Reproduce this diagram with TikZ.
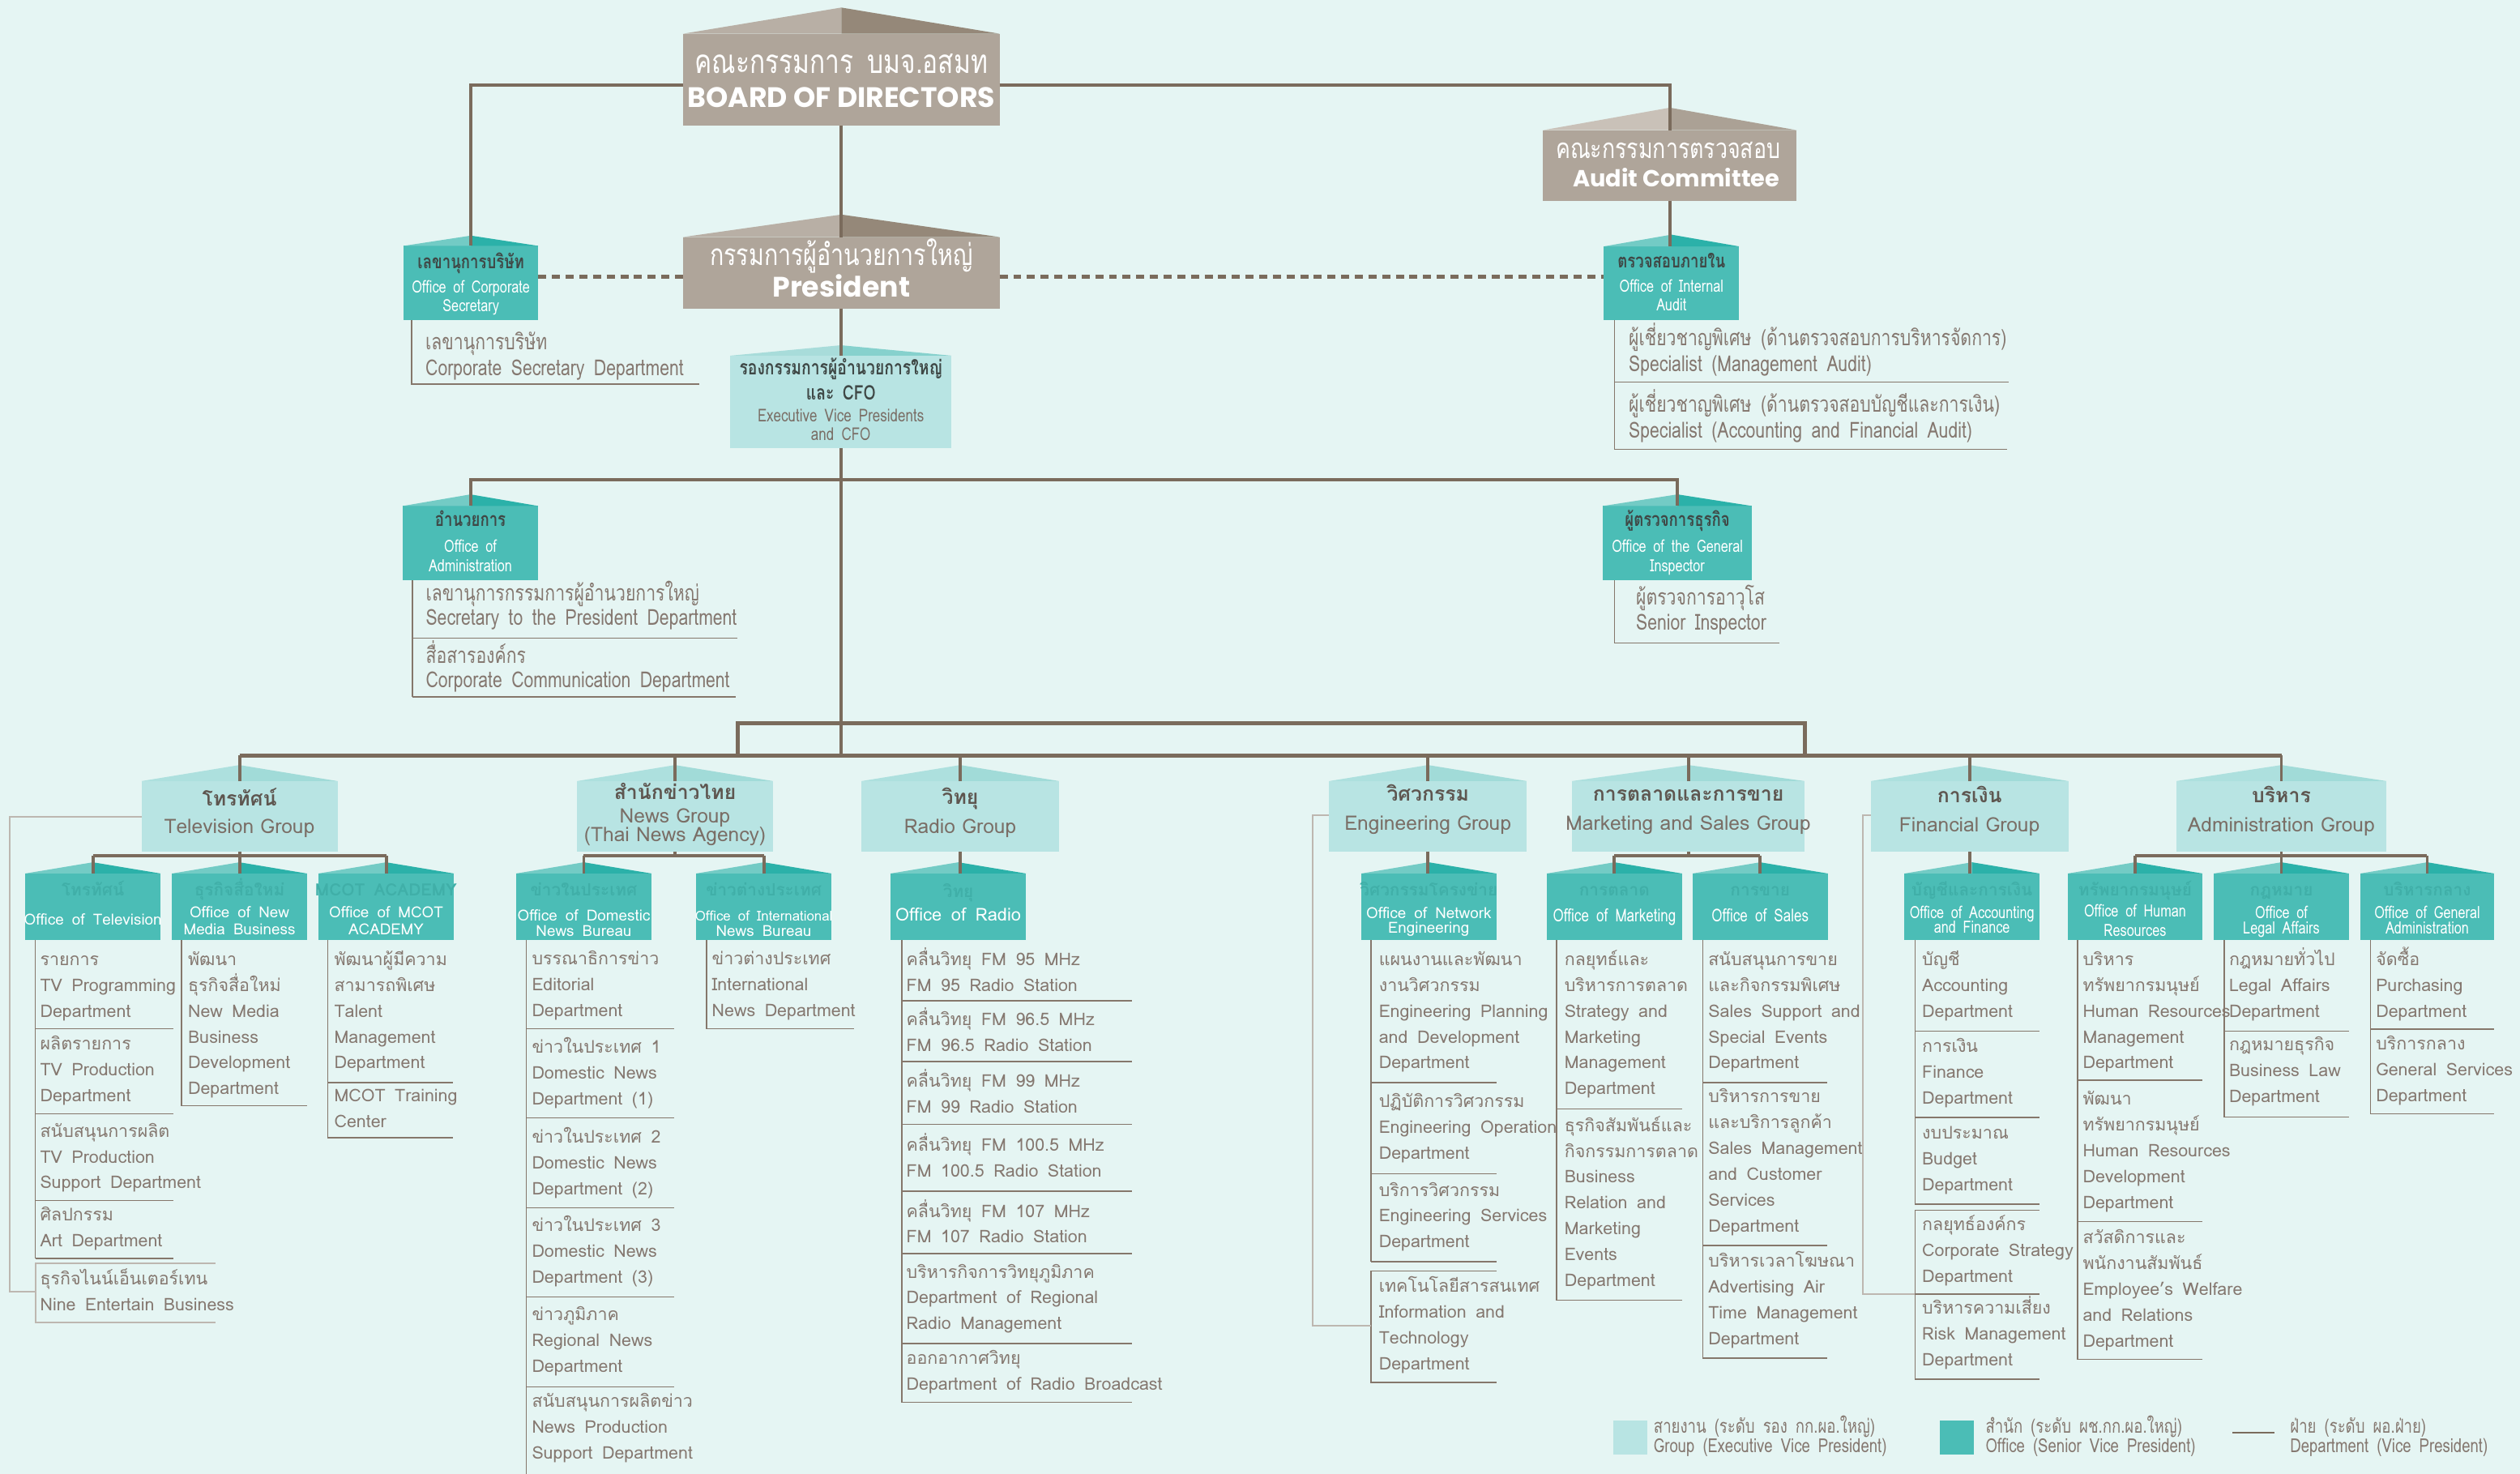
\documentclass[tikz,border=0pt]{standalone}
\usepackage{fontspec}
\setmainfont[Script=Thai,WordSpace=1.6]{Loma}
\newfontfamily\cond[Script=Thai,FakeStretch=0.78,WordSpace=1.6]{Loma}
\newfontfamily\grpf[Script=Thai]{Loma}
\newfontfamily\heavy{Poppins}
\usetikzlibrary{calc}
\definecolor{bg}{HTML}{E5F5F3}
\definecolor{linec}{HTML}{7A6B5C}
\definecolor{deptl}{HTML}{85776B}
\definecolor{deptc}{HTML}{857870}
\definecolor{brkc}{HTML}{BDB7B0}
\definecolor{brownbox}{HTML}{AFA59A}
\definecolor{broofL}{HTML}{B8AFA5}
\definecolor{broofR}{HTML}{958879}
\definecolor{aroofL}{HTML}{C9C1B8}
\definecolor{aroofR}{HTML}{ABA195}
\definecolor{teal}{HTML}{4BBDB6}
\definecolor{tealL}{HTML}{73CBC5}
\definecolor{tealR}{HTML}{2BB1A9}
\definecolor{tealfaint}{HTML}{40AFA8}
\definecolor{lteal}{HTML}{B8E4E3}
\definecolor{ltealL}{HTML}{ADE0DE}
\definecolor{ltealR}{HTML}{A1DBD8}
\definecolor{cfoL}{HTML}{A8DCDA}
\definecolor{cfoR}{HTML}{86D1CD}
\definecolor{darkt}{HTML}{3F4846}
\definecolor{grpthai}{HTML}{5E5650}
\definecolor{grpeng}{HTML}{7A6E66}
\newcommand\fs[1]{\fontsize{#1}{#1}\selectfont}
\newcommand\roofbox[9]{%
  \pgfmathsetmacro\rbx{(#2+#3)/2}%
  \pgfmathsetmacro\rby{(#4+#5)/2}%
  \pgfmathsetmacro\rbw{#3-#2}%
  \pgfmathsetmacro\rbh{#5-#4}%
  \node[fill=#7, minimum width=\rbw pt, minimum height=\rbh pt] (#1) at (\rbx,\rby) {};
  \fill[#8] (#2,#4) -- (\rbx,#6) -- (\rbx,#4) -- cycle;
  \fill[#9] (\rbx,#6) -- (#3,#4) -- (\rbx,#4) -- cycle;
}
\newcommand\dlist[5]{\foreach \t [count=\i] in {#5}{\node[#2, name=#1\i] at (#3,{#4+(\i-1)*16.1}) {\t};}}
\newcommand\grp[3]{\roofbox{#1}{#2}{#3}{486}{530}{476}{lteal}{ltealL}{ltealR}}
\newcommand\office[3]{\roofbox{#1}{#2}{#3}{543.5}{585}{536.5}{teal}{tealL}{tealR}}
\tikzset{
  conn/.style={draw=linec, line width=2pt},
  busline/.style={draw=linec, line width=2.6pt},
  dotconn/.style={draw=linec, line width=2.4pt, dash pattern=on 5pt off 3.5pt},
  dl/.style={draw=deptl, line width=0.8pt},
  brk/.style={draw=brkc, line width=1pt},
  dept/.style={anchor=mid west, text=deptc, font=\fs{10.8}},
  tdept/.style={anchor=mid west, text=deptc, font=\cond\fs{13.7}},
  otitle/.style={anchor=mid, text=darkt, font=\cond\bfseries\fs{12}},
  oeng/.style={anchor=mid, text=white, font=\cond\fs{10.5}},
  ofaint/.style={anchor=mid, text=tealfaint, font=\bfseries\fs{10.5}},
  oengb/.style={anchor=mid, text=white, font=\fs{9.5}},
  gthai/.style={anchor=mid, text=grpthai, font=\grpf\bfseries\fs{12.5}},
  geng/.style={anchor=mid, text=grpeng, font=\grpf\fs{12.4}},
  legt/.style={anchor=mid west, text=deptc, font=\cond\fs{12}},
}
\begin{document}
\begin{tikzpicture}[x=1pt,y=-1pt,every node/.style={inner sep=0pt,outer sep=0pt}]
\fill[bg] (0,0) rectangle (1568,917);
\useasboundingbox (0,0) rectangle (1568,917);

% ---------- top boxes
\roofbox{bod}{425}{622}{21}{78}{4.7}{brownbox}{broofL}{broofR}
\roofbox{pres}{425}{622}{147.5}{192}{133.5}{brownbox}{broofL}{broofR}
\roofbox{aud}{960}{1118}{81}{125}{67}{brownbox}{aroofL}{aroofR}
\roofbox{cs}{251}{335}{153}{199}{146.6}{teal}{tealL}{tealR}
\roofbox{ia}{998}{1082}{153.3}{199}{146}{teal}{tealL}{tealR}
\roofbox{cfo}{454.4}{592}{221.3}{279}{214.8}{lteal}{cfoL}{cfoR}
\roofbox{adm}{250.7}{334.8}{314.8}{361}{307.6}{teal}{tealL}{tealR}
\roofbox{gi}{997.5}{1090}{314.8}{361}{307.6}{teal}{tealL}{tealR}

% ---------- groups
\grp{tvg}{88}{210}
\grp{newsg}{359}{481}
\grp{radg}{536}{659}
\grp{engg}{827}{950}
\grp{mktg}{978}{1123}
\grp{fing}{1164}{1287}
\grp{admg}{1354}{1485}

% ---------- offices
\office{tvo}{15.6}{100}
\office{nmo}{107}{191}
\office{mcoto}{198}{282.5}
\office{domo}{321}{405.5}
\office{intlo}{433}{517.5}
\office{rado}{554}{638.5}
\office{neto}{847}{931}
\office{mkto}{962.4}{1046.6}
\office{salo}{1053}{1137.4}
\office{acco}{1185}{1269}
\office{hro}{1286.5}{1370.5}
\office{lego}{1377.5}{1461.5}
\office{geno}{1468.5}{1552}

% ---------- connectors top
\draw[conn] (bod.west |- 0,52.8) -| (cs.north);
\draw[conn] (bod.east |- 0,52.8) -| (aud.north);
\draw[conn] (bod.south) -- (pres.north);
\draw[conn] (aud.south) -- (aud.south |- ia.north);
\draw[conn] (pres.south) -- (pres.south |- cfo.north);
\draw[dotconn] (cs.east |- 0,172) -- (pres.west |- 0,172);
\draw[dotconn] (pres.east |- 0,172) -- (ia.west |- 0,172);
\draw[conn] (cfo.south) -- (cfo.south |- 0,470);
\draw[conn] (adm.north) -- (adm.north |- 0,298.4) -- (gi.north |- 0,298.4) -- (gi.north);

% ---------- group buses
\coordinate (ubl) at (459,470);
\coordinate (ubr) at (1123,470);
\draw[busline] (tvg.north |- 0,470) -- (admg.north |- 0,470);
\draw[busline] (ubl) -- (ubl |- 0,450) -- (ubr |- 0,450) -- (ubr);
\foreach \g in {tvg,newsg,radg,engg,mktg,fing,admg} {\draw[conn] (\g.north |- 0,470) -- (\g.north);}
% within groups
\draw[conn] (tvg.south) -- (tvg.south |- 0,532.5);
\draw[conn] (tvo.north |- 0,532.5) -- (mcoto.north |- 0,532.5);
\foreach \o in {tvo,nmo,mcoto} {\draw[conn] (\o.north |- 0,532.5) -- (\o.north);}
\draw[conn] (newsg.south) -- (newsg.south |- 0,532.5);
\draw[conn] (domo.north |- 0,532.5) -- (intlo.north |- 0,532.5);
\foreach \o in {domo,intlo} {\draw[conn] (\o.north |- 0,532.5) -- (\o.north);}
\draw[conn] (radg.south) -- (radg.south |- rado.north);
\draw[conn] (engg.south) -- (engg.south |- neto.north);
\draw[conn] (fing.south) -- (fing.south |- acco.north);
\draw[conn] (mktg.south) -- (mktg.south |- 0,532.5);
\draw[conn] (mkto.north |- 0,532.5) -- (salo.north |- 0,532.5);
\foreach \o in {mkto,salo} {\draw[conn] (\o.north |- 0,532.5) -- (\o.north);}
\draw[conn] (admg.south) -- (admg.south |- lego.north);
\draw[conn] (hro.north |- 0,532.5) -- (geno.north |- 0,532.5);
\foreach \o in {hro,geno} {\draw[conn] (\o.north |- 0,532.5) -- (\o.north);}

% ---------- top texts
\node[anchor=mid, text=white, font=\cond\fs{20.5}] (bodt1) at (523.5,43) {คณะกรรมการ บมจ.อสมท};
\node[anchor=mid, text=white, font=\heavy\bfseries\fs{17.5}] (bodt2) at (523.5,64.4) {BOARD OF DIRECTORS};
\node[anchor=mid, text=white, font=\cond\fs{18.5}] (prest1) at (523.5,162.5) {กรรมการผู้อำนวยการใหญ่};
\node[anchor=mid, text=white, font=\heavy\bfseries\fs{17.5}] (prest2) at (523.5,182) {President};
\node[anchor=mid, text=white, font=\cond\fs{17.3}] (audt1) at (1038,96) {คณะกรรมการตรวจสอบ};
\node[anchor=mid, text=white, font=\heavy\bfseries\fs{14.5}] (audt2) at (1043,113.5) {Audit Committee};
\node[otitle] (cst1) at (293,164.3) {เลขานุการบริษัท};
\node[oeng] (cst2) at (293,179.6) {Office of Corporate};
\node[oeng] (cst3) at (293,191.4) {Secretary};
\node[otitle] (iat1) at (1040,164) {ตรวจสอบภายใน};
\node[oeng] (iat2) at (1040,179) {Office of Internal};
\node[oeng] (iat3) at (1040,191) {Audit};
\node[otitle] (admt1) at (292.7,325) {อำนวยการ};
\node[oeng] (admt2) at (292.7,341) {Office of};
\node[oeng] (admt3) at (292.7,353) {Administration};
\node[otitle] (git1) at (1043.7,325) {ผู้ตรวจการธุรกิจ};
\node[oeng] (git2) at (1043.7,341) {Office of the General};
\node[oeng] (git3) at (1043.7,353) {Inspector};
\node[otitle, font=\cond\bfseries\fs{12.5}] (cfot1) at (523.2,230.6) {รองกรรมการผู้อำนวยการใหญ่};
\node[otitle, font=\cond\bfseries\fs{12.5}] (cfot2) at (523.2,246) {และ CFO};
\node[anchor=mid, text=grpeng, font=\cond\fs{11}] (cfot3) at (523.2,259.6) {Executive Vice Presidents};
\node[anchor=mid, text=grpeng, font=\cond\fs{11}] (cfot4) at (523.2,271.2) {and CFO};

% ---------- top departments
\draw[dl] (256,199) -- (256,239) -- (435,239);
\dlist{csd}{tdept}{264.8}{214.8}{เลขานุการบริษัท,Corporate Secretary Department}
\draw[dl] (1004.5,199) -- (1004.5,279.5);
\draw[dl] (1004.5,237.8) -- (1250,237.8);
\draw[dl] (1004.5,279.5) -- (1248.6,279.5);
\node[tdept] (iad1) at (1013.5,212.6) {ผู้เชี่ยวชาญพิเศษ (ด้านตรวจสอบการบริหารจัดการ)};
\node[tdept] (iad2) at (1013.5,228.5) {Specialist (Management Audit)};
\node[tdept] (iad3) at (1013.5,253.8) {ผู้เชี่ยวชาญพิเศษ (ด้านตรวจสอบบัญชีและการเงิน)};
\node[tdept] (iad4) at (1013.5,269.8) {Specialist (Accounting and Financial Audit)};
\draw[dl] (256.5,361) -- (256.5,433.7);
\draw[dl] (256.5,397) -- (459,397);
\draw[dl] (256.5,433.7) -- (458,433.7);
\node[tdept] (admd1) at (265,371.5) {เลขานุการกรรมการผู้อำนวยการใหญ่};
\node[tdept] (admd2) at (265,386.6) {Secretary to the President Department};
\node[tdept] (admd3) at (265,410) {สื่อสารองค์กร};
\node[tdept] (admd4) at (265,425) {Corporate Communication Department};
\draw[dl] (1004.5,361) -- (1004.5,400) -- (1107,400);
\node[tdept] (gid1) at (1018,374) {ผู้ตรวจการอาวุโส};
\node[tdept] (gid2) at (1018,389.4) {Senior Inspector};

% ---------- group texts
\node[gthai] (tvgt1) at (149,499) {โทรทัศน์};
\node[geng] (tvgt2) at (149,516) {Television Group};
\node[gthai] (newsgt1) at (420,495) {สำนักข่าวไทย};
\node[geng] (newsgt2) at (420,509.5) {News Group};
\node[geng] (newsgt3) at (420,521) {(Thai News Agency)};
\node[gthai] (radgt1) at (597.5,498) {วิทยุ};
\node[geng] (radgt2) at (597.5,516) {Radio Group};
\node[gthai] (enggt1) at (888.5,496) {วิศวกรรม};
\node[geng] (enggt2) at (888.5,514) {Engineering Group};
\node[gthai] (mktgt1) at (1050.5,496) {การตลาดและการขาย};
\node[geng] (mktgt2) at (1050.5,514) {Marketing and Sales Group};
\node[gthai] (fingt1) at (1225.5,497) {การเงิน};
\node[geng] (fingt2) at (1225.5,515) {Financial Group};
\node[gthai] (admgt1) at (1419.5,497) {บริหาร};
\node[geng] (admgt2) at (1419.5,515) {Administration Group};

% ---------- office texts
\node[ofaint] (tvot1) at (tvo |- 0,555) {โทรทัศน์};
\node[oengb] (tvot2) at (tvo |- 0,573) {Office of Television};
\node[ofaint] (nmot1) at (nmo |- 0,555) {ธุรกิจสื่อใหม่};
\node[oengb] (nmot2) at (nmo |- 0,568.5) {Office of  New};
\node[oengb] (nmot3) at (nmo |- 0,579) {Media Business};
\node[ofaint] (mcot1) at (mcoto |- 0,555) {MCOT ACADEMY};
\node[oengb] (mcot2) at (mcoto |- 0,568.5) {Office of MCOT};
\node[oengb] (mcot3) at (mcoto |- 0,579) {ACADEMY};
\node[ofaint] (domot1) at (domo |- 0,555) {ข่าวในประเทศ};
\node[oengb] (domot2) at (domo |- 0,570.6) {Office of Domestic};
\node[oengb] (domot3) at (domo |- 0,580) {News Bureau};
\node[ofaint] (intlot1) at (intlo |- 0,555) {ข่าวต่างประเทศ};
\node[oengb, font=\fs{8.5}] (intlot2) at (intlo |- 0,570.6) {Office of International};
\node[oengb] (intlot3) at (intlo |- 0,580) {News Bureau};
\node[ofaint] (radot1) at (rado |- 0,555.6) {วิทยุ};
\node[oengb, font=\fs{11}] (radot2) at (rado |- 0,570.5) {Office of Radio};
\node[ofaint] (netot1) at (neto |- 0,554.7) {วิศวกรรมโครงข่าย};
\node[oengb] (netot2) at (neto |- 0,568.8) {Office of Network};
\node[oengb] (netot3) at (neto |- 0,578) {Engineering};
\node[ofaint] (mktot1) at (mkto |- 0,554.7) {การตลาด};
\node[oengb, font=\cond\fs{11}] (mktot2) at (mkto |- 0,571) {Office of Marketing};
\node[ofaint] (salot1) at (salo |- 0,554.7) {การขาย};
\node[oengb, font=\cond\fs{11}] (salot2) at (salo |- 0,571) {Office of Sales};
\node[ofaint] (accot1) at (acco |- 0,554.7) {บัญชีและการเงิน};
\node[oeng] (accot2) at (acco |- 0,569) {Office of Accounting};
\node[oeng] (accot3) at (acco |- 0,578) {and Finance};
\node[ofaint] (hrot1) at (hro |- 0,554.7) {ทรัพยากรมนุษย์};
\node[oeng] (hrot2) at (hro |- 0,568) {Office of Human};
\node[oeng] (hrot3) at (hro |- 0,580) {Resources};
\node[ofaint] (legot1) at (lego |- 0,554.7) {กฎหมาย};
\node[oeng] (legot2) at (lego |- 0,569) {Office of};
\node[oeng] (legot3) at (lego |- 0,578.5) {Legal Affairs};
\node[ofaint] (genot1) at (geno |- 0,554.7) {บริหารกลาง};
\node[oeng] (genot2) at (geno |- 0,569) {Office of General};
\node[oeng] (genot3) at (geno |- 0,578.5) {Administration};

% ---------- Television departments
\draw[dl] (22,585) -- (22,783);
\dlist{tva}{dept}{25}{598}{รายการ,TV Programming,Department}
\draw[dl] (22,640) -- (108,640);
\dlist{tvb}{dept}{25}{650.5}{ผลิตรายการ,TV Production,Department}
\draw[dl] (22,693) -- (108,693);
\dlist{tvc}{dept}{25}{704.8}{สนับสนุนการผลิต,TV Production,Support Department}
\draw[dl] (22,747) -- (108,747);
\dlist{tvd}{dept}{25}{757}{ศิลปกรรม,Art Department}
\draw[dl] (22,783) -- (108,783);
\draw[brk] (134,786) -- (22,786) -- (22,823) -- (134,823);
\dlist{tve}{dept}{25}{797}{ธุรกิจไนน์เอ็นเตอร์เทน,Nine Entertain Business}
\draw[brk] (tvg.west |- 0,508) -- (6,508) -- (6,803.5) -- (22,803.5);
\draw[dl] (113,585) -- (113,688) -- (191,688);
\dlist{nma}{dept}{117}{598}{พัฒนา,ธุรกิจสื่อใหม่,New Media,Business,Development,Department}
\draw[dl] (204,585) -- (204,708) -- (282,708);
\draw[dl] (204,673.5) -- (282,673.5);
\dlist{mca}{dept}{208}{598}{พัฒนาผู้มีความ,สามารถพิเศษ,Talent,Management,Department}
\dlist{mcb}{dept}{208}{683}{MCOT Training,Center}

% ---------- News departments
\draw[dl] (327.5,585) -- (327.5,917);
\dlist{dna}{dept}{331}{597.6}{บรรณาธิการข่าว,Editorial,Department}
\draw[dl] (327.5,640) -- (419.5,640);
\dlist{dnb}{dept}{331}{652.5}{ข่าวในประเทศ 1,Domestic News,Department (1)}
\draw[dl] (327.5,695.6) -- (419.5,695.6);
\dlist{dnc}{dept}{331}{708.5}{ข่าวในประเทศ 2,Domestic News,Department (2)}
\draw[dl] (327.5,751.5) -- (419.5,751.5);
\dlist{dnd}{dept}{331}{763.5}{ข่าวในประเทศ 3,Domestic News,Department (3)}
\draw[dl] (327.5,807) -- (419.5,807);
\dlist{dne}{dept}{331}{819}{ข่าวภูมิภาค,Regional News,Department}
\draw[dl] (327.5,863) -- (419.5,863);
\dlist{dnf}{dept}{331}{873}{สนับสนุนการผลิตข่าว,News Production,Support Department}
\draw[dl] (439.6,585) -- (439.6,640) -- (531.5,640);
\dlist{ina}{dept}{443}{597.6}{ข่าวต่างประเทศ,International,News Department}

% ---------- Radio departments
\draw[dl] (561,585) -- (561,872.5);
\dlist{ra}{dept}{564}{598}{คลื่นวิทยุ FM 95 MHz,FM 95 Radio Station}
\draw[dl] (561,622.7) -- (704.5,622.7);
\dlist{rb}{dept}{564}{635.5}{คลื่นวิทยุ FM 96.5 MHz,FM 96.5 Radio Station}
\draw[dl] (561,660.6) -- (704.5,660.6);
\dlist{rc}{dept}{564}{674}{คลื่นวิทยุ FM 99 MHz,FM 99 Radio Station}
\draw[dl] (561,699.5) -- (704.5,699.5);
\dlist{rd}{dept}{564}{713.8}{คลื่นวิทยุ FM 100.5 MHz,FM 100.5 Radio Station}
\draw[dl] (561,741) -- (704.5,741);
\dlist{re}{dept}{564}{754.7}{คลื่นวิทยุ FM 107 MHz,FM 107 Radio Station}
\draw[dl] (561,780) -- (704.5,780);
\dlist{rf}{dept}{564}{792.5}{บริหารกิจการวิทยุภูมิภาค,Department of Regional,Radio Management}
\draw[dl] (561,836) -- (704.5,836);
\dlist{rg}{dept}{564}{846}{ออกอากาศวิทยุ,Department of Radio Broadcast}
\draw[dl] (561,872.5) -- (704.5,872.5);

% ---------- Engineering departments
\draw[dl] (853,585) -- (853,785);
\dlist{ea}{dept}{858}{598}{แผนงานและพัฒนา,งานวิศวกรรม,Engineering Planning,and Development,Department}
\draw[dl] (853,673.5) -- (931,673.5);
\dlist{eb}{dept}{858}{686.5}{ปฏิบัติการวิศวกรรม,Engineering Operation,Department}
\draw[dl] (853,730.4) -- (931,730.4);
\dlist{ec}{dept}{858}{741.6}{บริการวิศวกรรม,Engineering Services,Department}
\draw[dl] (853,785) -- (931,785);
\draw[dl] (931,790.7) -- (853,790.7) -- (853,860) -- (931,860);
\dlist{ed}{dept}{858}{801.5}{เทคโนโลยีสารสนเทศ,Information and,Technology,Department}
\draw[brk] (engg.west |- 0,507) -- (817,507) -- (817,824.7) -- (853,824.7);

% ---------- Marketing and Sales departments
\draw[dl] (968.5,585) -- (968.5,809) -- (1046.6,809);
\dlist{ma}{dept}{973.5}{598}{กลยุทธ์และ,บริหารการตลาด,Strategy and,Marketing,Management,Department}
\draw[dl] (968.5,690) -- (1046.6,690);
\dlist{mb}{dept}{973.5}{701.3}{ธุรกิจสัมพันธ์และ,กิจกรรมการตลาด,Business,Relation and,Marketing,Events,Department}
\draw[dl] (1059.5,585) -- (1059.5,845) -- (1137,845);
\dlist{sa}{dept}{1063}{598}{สนับสนุนการขาย,และกิจกรรมพิเศษ,Sales Support and,Special Events,Department}
\draw[dl] (1059.5,673.5) -- (1137,673.5);
\dlist{sb}{dept}{1063}{683.5}{บริหารการขาย,และบริการลูกค้า,Sales Management,and Customer,Services,Department}
\draw[dl] (1059.5,775) -- (1137,775);
\dlist{sc}{dept}{1063}{785.9}{บริหารเวลาโฆษณา,Advertising Air,Time Management,Department}

% ---------- Financial departments
\draw[dl] (1191.6,585) -- (1191.6,749.3);
\dlist{fa}{dept}{1196}{598}{บัญชี,Accounting,Department}
\draw[dl] (1191.6,641.6) -- (1269,641.6);
\dlist{fb}{dept}{1196}{652}{การเงิน,Finance,Department}
\draw[dl] (1191.6,695.4) -- (1269,695.4);
\dlist{fc}{dept}{1196}{706}{งบประมาณ,Budget,Department}
\draw[dl] (1191.6,749.3) -- (1269,749.3);
\draw[dl] (1269,753) -- (1191.6,753) -- (1191.6,858) -- (1269,858);
\dlist{fd}{dept}{1196}{763}{กลยุทธ์องค์กร,Corporate Strategy,Department}
\draw[dl] (1191.6,805.3) -- (1269,805.3);
\dlist{fe}{dept}{1196}{815}{บริหารความเสี่ยง,Risk Management,Department}
\draw[brk] (fing.west |- 0,507) -- (1159,507) -- (1159,805.3) -- (1191.6,805.3);

% ---------- Administration departments
\draw[dl] (1292.6,585) -- (1292.6,845.7) -- (1370.5,845.7);
\dlist{ha}{dept}{1296}{598}{บริหาร,ทรัพยากรมนุษย์,Human Resources,Management,Department}
\draw[dl] (1292.6,672) -- (1370.5,672);
\dlist{hb}{dept}{1296}{685}{พัฒนา,ทรัพยากรมนุษย์,Human Resources,Development,Department}
\draw[dl] (1292.6,760) -- (1370.5,760);
\dlist{hc}{dept}{1296}{771.3}{สวัสดิการและ,พนักงานสัมพันธ์,Employee’s Welfare,and Relations,Department}
\draw[dl] (1384,585) -- (1384,695) -- (1461.5,695);
\dlist{la}{dept}{1387}{598}{กฎหมายทั่วไป,Legal Affairs,Department}
\draw[dl] (1384,641.6) -- (1461.5,641.6);
\dlist{lb}{dept}{1387}{651}{กฎหมายธุรกิจ,Business Law,Department}
\draw[dl] (1475,585) -- (1475,693) -- (1552,693);
\dlist{ga}{dept}{1478.4}{598}{จัดซื้อ,Purchasing,Department}
\draw[dl] (1475,640.4) -- (1552,640.4);
\dlist{gb}{dept}{1478.4}{650.5}{บริการกลาง,General Services,Department}

% ---------- legend
\node[fill=lteal, minimum width=21pt, minimum height=21pt] (lg1) at (1014.5,894.5) {};
\node[legt] (lg1a) at (1029,889) {สายงาน (ระดับ รอง กก.ผอ.ใหญ่)};
\node[legt] (lg1b) at (1029,901) {Group (Executive Vice President)};
\node[fill=teal, minimum width=21pt, minimum height=21pt] (lg2) at (1217.5,894.5) {};
\node[legt] (lg2a) at (1235.5,889) {สำนัก (ระดับ ผช.กก.ผอ.ใหญ่)};
\node[legt] (lg2b) at (1235.5,901) {Office (Senior Vice President)};
\coordinate (lg3a) at (1389,891.6);
\coordinate (lg3b) at (1415,891.6);
\draw[draw=linec, line width=1pt] (lg3a) -- (lg3b);
\node[legt] (lg3c) at (1425,889) {ฝ่าย (ระดับ ผอ.ฝ่าย)};
\node[legt] (lg3d) at (1425,901) {Department (Vice President)};
\end{tikzpicture}
\end{document}
